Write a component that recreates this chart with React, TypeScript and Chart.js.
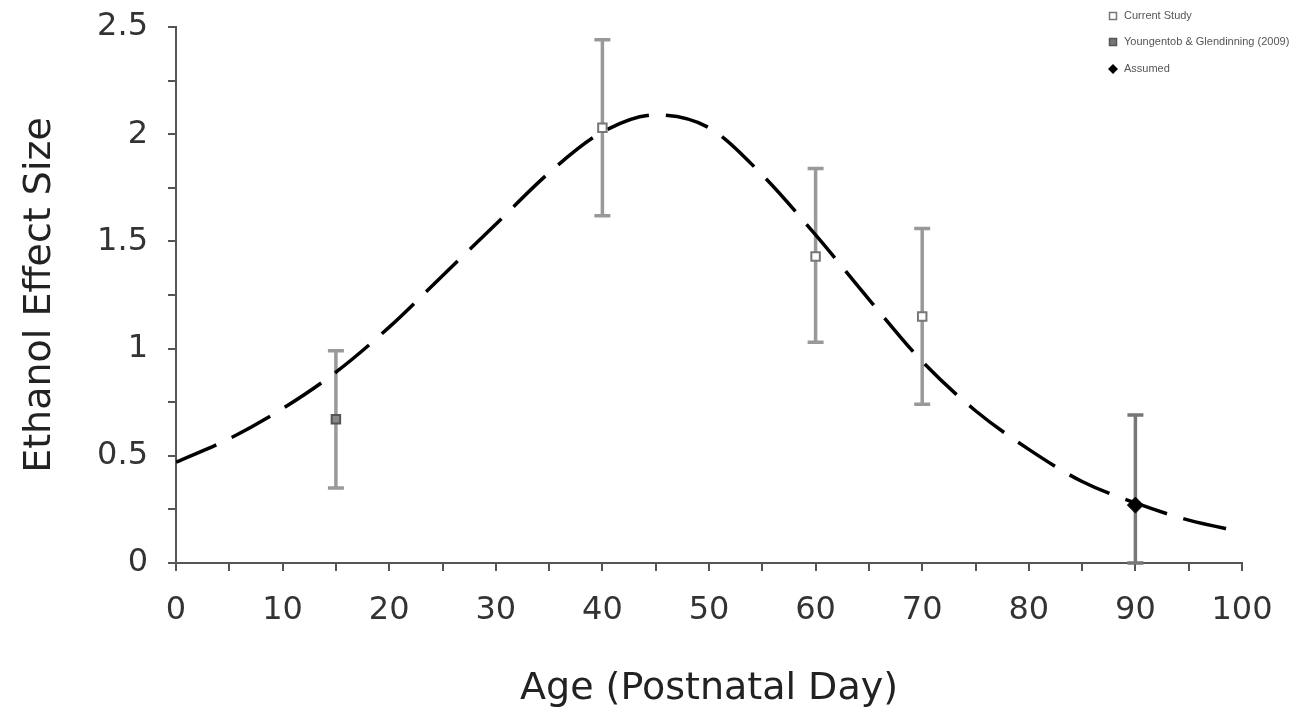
import React, { useEffect, useRef } from "react";
import { Chart, registerables } from "chart.js";

Chart.register(...registerables);

// Fitted curve
const curveX = [0, 5, 10, 15, 20, 25, 30, 35, 40, 45, 50, 55, 60, 65, 70, 75, 80, 85, 90, 95, 100];
const curveY = [0.47, 0.58, 0.72, 0.89, 1.1, 1.34, 1.58, 1.82, 2.01, 2.09, 2.03, 1.81, 1.53, 1.23, 0.94, 0.71, 0.53, 0.38, 0.28, 0.2, 0.145];

// Current Study
const currentX = [40, 60, 70];
const currentY = [2.03, 1.43, 1.15];
const currentLo = [1.62, 1.03, 0.74];
const currentHi = [2.44, 1.84, 1.56];

// Youngentob & Glendinning (2009)
const youngX = [15];
const youngY = [0.67];
const youngLo = [0.35];
const youngHi = [0.99];

// Assumed
const assumedX = [90];
const assumedY = [0.27];
const assumedLo = [0];
const assumedHi = [0.69];

const legendLabels = ["Current Study", "Youngentob & Glendinning (2009)", "Assumed"];

const xTicksMin = 0;
const xTicksMax = 100;
const yTicksMin = 0;
const yTicksMax = 2.5;

const toPts = (xs: number[], ys: number[]) => xs.map((x, i) => ({ x, y: ys[i] }));

const errorBarPlugin = {
  id: "errorBars",
  beforeDatasetsDraw(chart: any) {
    const ctx = chart.ctx;
    const xs = chart.scales.x;
    const ys = chart.scales.y;
    chart.data.datasets.forEach((ds: any) => {
      if (!ds.errLo) return;
      ds.data.forEach((p: any, i: number) => {
        const px = xs.getPixelForValue(p.x);
        const lo = ys.getPixelForValue(ds.errLo[i]);
        const hi = ys.getPixelForValue(ds.errHi[i]);
        ctx.save();
        ctx.strokeStyle = ds.errColor || "#999";
        ctx.lineWidth = 3.5;
        ctx.beginPath();
        ctx.moveTo(px, lo);
        ctx.lineTo(px, hi);
        ctx.moveTo(px - 8, hi);
        ctx.lineTo(px + 8, hi);
        ctx.moveTo(px - 8, lo);
        ctx.lineTo(px + 8, lo);
        ctx.stroke();
        ctx.restore();
      });
    });
  },
};

const legendPlugin = {
  id: "customLegend",
  afterDraw(chart: any) {
    const ctx = chart.ctx;
    const mx = chart.chartArea.right - 129;
    const tx = mx + 11;
    const ys = [16, 42, 69];
    ctx.save();
    ctx.font = "11px 'Liberation Sans'";
    ctx.textBaseline = "middle";
    legendLabels.forEach((lab, i) => {
      const y = ys[i];
      ctx.lineWidth = 1.5;
      if (i === 0) {
        ctx.fillStyle = "#fff";
        ctx.strokeStyle = "#777";
        ctx.fillRect(mx - 3.5, y - 3.5, 7, 7);
        ctx.strokeRect(mx - 3.5, y - 3.5, 7, 7);
      } else if (i === 1) {
        ctx.fillStyle = "#777";
        ctx.strokeStyle = "#555";
        ctx.fillRect(mx - 3.5, y - 3.5, 7, 7);
        ctx.strokeRect(mx - 3.5, y - 3.5, 7, 7);
      } else {
        ctx.fillStyle = "#000";
        ctx.beginPath();
        ctx.moveTo(mx, y - 5);
        ctx.lineTo(mx + 5, y);
        ctx.lineTo(mx, y + 5);
        ctx.lineTo(mx - 5, y);
        ctx.closePath();
        ctx.fill();
      }
      ctx.fillStyle = "#555";
      ctx.fillText(lab, tx, y);
    });
    ctx.restore();
  },
};

const zeroPad = (s: any) => {
  s.paddingTop = 0;
  s.paddingBottom = 0;
  s.paddingLeft = 0;
  s.paddingRight = 0;
};

export default function App() {
  const ref = useRef<HTMLCanvasElement | null>(null);
  useEffect(() => {
    if (!ref.current) return;
    Chart.defaults.font.family = "'DejaVu Sans'";
    const chart = new Chart(ref.current, {
      type: "scatter",
      data: {
        datasets: [
          {
            label: legendLabels[0],
            data: toPts(currentX, currentY),
            pointStyle: "rect",
            pointRadius: 6,
            pointBackgroundColor: "#fff",
            pointBorderColor: "#777",
            pointBorderWidth: 2,
            errLo: currentLo,
            errHi: currentHi,
            errColor: "#999",
          } as any,
          {
            label: legendLabels[1],
            data: toPts(youngX, youngY),
            pointStyle: "rect",
            pointRadius: 6,
            pointBackgroundColor: "#888",
            pointBorderColor: "#555",
            pointBorderWidth: 2,
            errLo: youngLo,
            errHi: youngHi,
            errColor: "#999",
          } as any,
          {
            label: legendLabels[2],
            data: toPts(assumedX, assumedY),
            pointStyle: "rectRot",
            pointRadius: 8,
            pointBackgroundColor: "#000",
            pointBorderColor: "#000",
            pointBorderWidth: 1,
            errLo: assumedLo,
            errHi: assumedHi,
            errColor: "#777",
          } as any,
          {
            type: "line",
            label: "Fit",
            data: toPts(curveX, curveY),
            showLine: true,
            borderColor: "#000",
            borderWidth: 3.5,
            borderDash: [44, 17],
            pointRadius: 0,
            cubicInterpolationMode: "monotone",
            fill: false,
          } as any,
        ],
      },
      options: {
        animation: false,
        responsive: true,
        maintainAspectRatio: false,
        layout: { padding: { left: 0, top: 27, right: 60, bottom: 0 } },
        plugins: {
          legend: { display: false },
          tooltip: { enabled: false },
        },
        scales: {
          x: {
            type: "linear",
            min: xTicksMin,
            max: xTicksMax,
            afterFit: (s: any) => {
              s.height = 165;
              zeroPad(s);
            },
            border: { display: true, color: "#555", width: 2 },
            grid: { drawOnChartArea: false, tickLength: 8, color: "#555", lineWidth: 2 },
            ticks: {
              stepSize: 5,
              autoSkip: false,
              maxRotation: 0,
              padding: 20,
              color: "#333",
              font: { size: 32 },
              callback: (v: any) => (Number(v) % 10 === 0 ? String(v) : ""),
            },
            title: {
              display: true,
              text: "Age (Postnatal Day)",
              color: "#222",
              font: { size: 38 },
              padding: { top: 0, bottom: 16 },
            },
          },
          y: {
            type: "linear",
            min: yTicksMin,
            max: yTicksMax,
            afterFit: (s: any) => {
              s.width = 176;
              zeroPad(s);
            },
            border: { display: true, color: "#555", width: 2 },
            grid: { drawOnChartArea: false, tickLength: 8, color: "#555", lineWidth: 2 },
            ticks: {
              stepSize: 0.25,
              autoSkip: false,
              padding: 20,
              color: "#333",
              font: { size: 32 },
              callback: (v: any) => (Math.abs(Number(v) % 0.5) < 1e-9 ? String(v) : ""),
            },
            title: {
              display: true,
              text: "Ethanol Effect Size",
              color: "#222",
              font: { size: 38 },
              padding: { top: 17, bottom: 0 },
            },
          },
        },
      },
      plugins: [errorBarPlugin, legendPlugin],
    });
    return () => chart.destroy();
  }, []);
  return (
    <div style={{ position: "absolute", left: 0, top: 0, width: 1302, height: 728, background: "#fff" }}>
      <canvas ref={ref} />
    </div>
  );
}
